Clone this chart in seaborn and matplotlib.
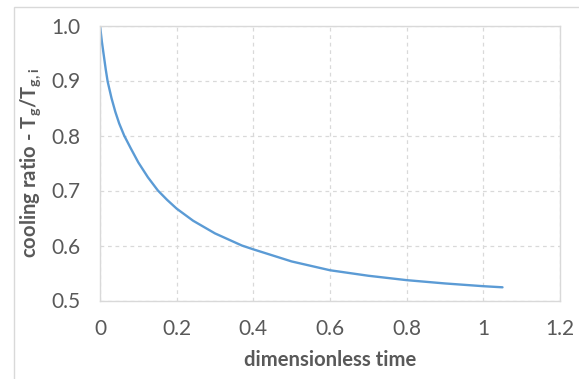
import matplotlib
matplotlib.use("Agg")
import matplotlib.pyplot as plt
import seaborn as sns
import pandas as pd
from matplotlib.patches import Rectangle

# Data
dimensionless_time = [0, 0.005, 0.01, 0.015, 0.02, 0.03, 0.04, 0.05, 0.063, 0.08, 0.1, 0.125, 0.151,
                      0.175, 0.2, 0.243, 0.3, 0.37, 0.4, 0.5, 0.6, 0.7, 0.8, 0.9, 1.0, 1.05]
cooling_ratio = [1.0, 0.97, 0.945, 0.92, 0.898, 0.868, 0.843, 0.822, 0.80, 0.777, 0.751, 0.724, 0.70,
                 0.683, 0.667, 0.645, 0.622, 0.60, 0.593, 0.571, 0.555, 0.545, 0.537, 0.531, 0.526, 0.524]
x_ticks = [0, 0.2, 0.4, 0.6, 0.8, 1.0, 1.2]
x_tick_labels = ["0", "0.2", "0.4", "0.6", "0.8", "1", "1.2"]
y_ticks = [0.5, 0.6, 0.7, 0.8, 0.9, 1.0]
y_tick_labels = ["0.5", "0.6", "0.7", "0.8", "0.9", "1.0"]

df = pd.DataFrame({"t": dimensionless_time, "r": cooling_ratio})

sns.set_theme(style="white")
plt.rcParams["font.family"] = ["Lato", "DejaVu Sans"]
plt.rcParams["mathtext.fontset"] = "custom"
plt.rcParams["mathtext.rm"] = "Lato:bold"
plt.rcParams["mathtext.it"] = "Lato:bold"
plt.rcParams["mathtext.bf"] = "Lato:bold"

W, H = 579, 379
fig = plt.figure(figsize=(W / 100, H / 100), dpi=100)
ax = fig.add_axes([100 / W, (H - 300.5) / H, 460 / W, 275 / H])

sns.lineplot(data=df, x="t", y="r", ax=ax, color="#5b9bd5", linewidth=1.7)

ax.set_xlim(0, 1.2)
ax.set_ylim(0.5, 1.0)
ax.set_xticks(x_ticks)
ax.set_xticklabels(x_tick_labels)
ax.set_yticks(y_ticks)
ax.set_yticklabels(y_tick_labels)
ax.tick_params(axis="both", colors="#595959", labelsize=15, length=0)
ax.tick_params(axis="y", pad=14)
ax.tick_params(axis="x", pad=13)

ax.grid(True, color="#d9d9d9", linestyle=(0, (3, 3)), linewidth=0.9)
for s in ax.spines.values():
    s.set_color("#d9d9d9")
    s.set_linewidth(1.0)

ax.set_xlabel("dimensionless time", fontsize=14.6, fontweight="bold", color="#595959", labelpad=8)
ax.set_ylabel(r"cooling ratio - T$_{\rm g}$/T$_{\rm g,i}$", fontsize=14.6, fontweight="bold",
              color="#595959", labelpad=6)

# outer chart-area border
fig.patches.append(Rectangle((14 / W, -0.1), 1.2, (H - 7) / H + 0.1, transform=fig.transFigure,
                             fill=False, edgecolor="#d9d9d9", linewidth=1.0))

fig.savefig("out.png", dpi=100, facecolor="white")
